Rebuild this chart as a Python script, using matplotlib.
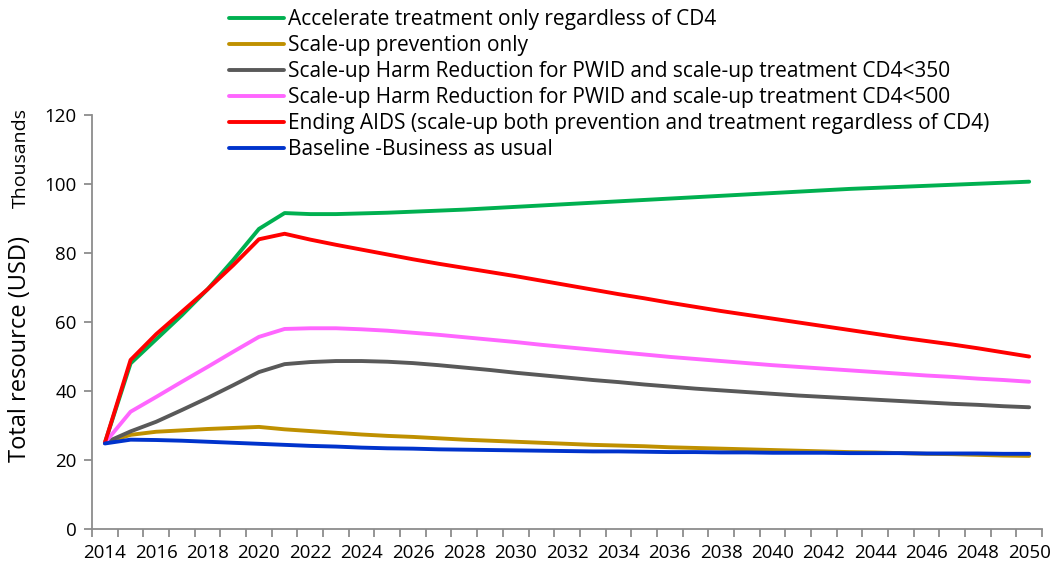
import numpy as np
import matplotlib
matplotlib.use("Agg")
import matplotlib.pyplot as plt

plt.rcParams['font.family'] = ['Open Sans', 'DejaVu Sans']

years = list(range(2014, 2051))

# values in thousands USD
accelerate = [25.0, 48.0, 55.0, 62.0, 69.5, 78.0, 87.0, 91.6, 91.3, 91.3, 91.5, 91.7,
              92.0, 92.3, 92.6, 93.0, 93.4, 93.8, 94.2, 94.6, 95.0, 95.4, 95.8, 96.2,
              96.6, 97.0, 97.4, 97.8, 98.2, 98.6, 98.9, 99.2, 99.5, 99.8, 100.1, 100.4, 100.7]
prevention = [25.0, 27.3, 28.2, 28.6, 29.0, 29.3, 29.6, 28.9, 28.4, 27.9, 27.4, 27.0,
              26.7, 26.3, 25.9, 25.6, 25.3, 25.0, 24.7, 24.4, 24.2, 24.0, 23.7, 23.5,
              23.3, 23.1, 22.9, 22.7, 22.5, 22.3, 22.2, 22.0, 21.8, 21.7, 21.5, 21.3, 21.2]
harm_350 = [25.0, 28.3, 31.1, 34.5, 38.0, 41.7, 45.5, 47.8, 48.4, 48.7, 48.7, 48.5,
            48.1, 47.5, 46.8, 46.1, 45.3, 44.6, 43.9, 43.2, 42.6, 41.9, 41.3, 40.7,
            40.2, 39.7, 39.2, 38.7, 38.3, 37.9, 37.5, 37.1, 36.7, 36.3, 36.0, 35.6, 35.3]
harm_500 = [25.0, 34.0, 38.3, 42.7, 47.0, 51.4, 55.7, 58.0, 58.2, 58.2, 57.9, 57.5,
            56.9, 56.3, 55.6, 54.9, 54.2, 53.4, 52.7, 52.0, 51.3, 50.6, 49.9, 49.3,
            48.7, 48.1, 47.5, 47.0, 46.5, 46.0, 45.5, 45.0, 44.5, 44.1, 43.6, 43.2, 42.7]
ending_aids = [25.0, 49.0, 56.5, 63.0, 69.5, 76.5, 84.0, 85.6, 83.9, 82.4, 81.0, 79.6,
               78.2, 76.9, 75.7, 74.5, 73.3, 72.0, 70.7, 69.4, 68.1, 66.9, 65.6, 64.4,
               63.2, 62.1, 61.0, 59.9, 58.8, 57.7, 56.6, 55.5, 54.5, 53.5, 52.4, 51.2, 50.0]
baseline = [24.8, 25.9, 25.8, 25.6, 25.3, 25.0, 24.7, 24.4, 24.1, 23.9, 23.6, 23.4,
            23.3, 23.1, 23.0, 22.9, 22.8, 22.7, 22.6, 22.5, 22.5, 22.4, 22.3, 22.3,
            22.2, 22.2, 22.1, 22.1, 22.1, 22.0, 22.0, 22.0, 21.9, 21.9, 21.9, 21.8, 21.8]

series = [
    ("Accelerate treatment only regardless of CD4", accelerate, "#00B050"),
    ("Scale-up prevention only", prevention, "#BF9000"),
    ("Scale-up Harm Reduction for PWID and scale-up treatment CD4<350", harm_350, "#595959"),
    ("Scale-up Harm Reduction for PWID and scale-up treatment CD4<500", harm_500, "#FF66FF"),
    ("Ending AIDS (scale-up both prevention and treatment regardless of CD4)", ending_aids, "#FF0000"),
    ("Baseline -Business as usual", baseline, "#0033CC"),
]

fig = plt.figure(figsize=(10.52, 5.67), dpi=100)
ax = fig.add_axes([0.0875, 0.067, 0.903, 0.730])

for label, vals, color in series:
    ax.plot(years, vals, color=color, lw=2.8, label=label, solid_capstyle='round')

ax.set_xlim(2013.5, 2050.5)
ax.set_ylim(0, 120)
ax.set_yticks(range(0, 121, 20))

# category-style axis: ticks between years, labels every other year
ax.set_xticks(np.arange(2013.5, 2051, 1))
ax.set_xticklabels([])
ax.set_xticks(years[::2], minor=True)
ax.set_xticklabels([str(y) for y in years[::2]], minor=True)
ax.tick_params(axis='x', which='minor', length=0, pad=11, labelsize=13.5)
ax.tick_params(axis='x', which='major', length=6, width=1.3, color='#8c8c8c')
ax.tick_params(axis='y', length=6, width=1.3, color='#8c8c8c', labelsize=13.5, pad=5)

for s in ['top', 'right']:
    ax.spines[s].set_visible(False)
for s in ['left', 'bottom']:
    ax.spines[s].set_color('#8c8c8c')
    ax.spines[s].set_linewidth(1.3)

ax.set_ylabel("Total resource (USD)", fontsize=17, labelpad=9, y=0.435)
fig.text(0.020, 0.722, "Thousands", rotation=90, fontsize=14, ha='center', va='center')

fig.legend(loc='upper left', bbox_to_anchor=(0.210, 0.999), frameon=False,
           fontsize=15, handlelength=2.65, handletextpad=0.15, labelspacing=0.24,
           borderaxespad=0.0)

fig.savefig("out.png", dpi=100)
